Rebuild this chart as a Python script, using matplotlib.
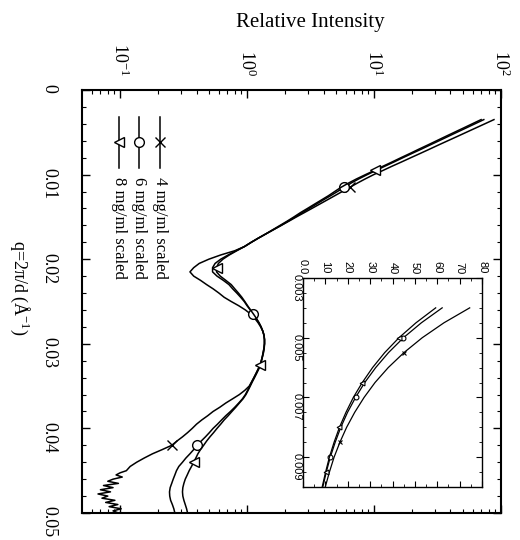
import numpy as np
import matplotlib
matplotlib.use("Agg")
import matplotlib.pyplot as plt
from matplotlib.ticker import LogLocator, NullFormatter, MultipleLocator, FixedLocator

plt.rcParams['font.family'] = ['Liberation Serif', 'DejaVu Serif']
plt.rcParams['mathtext.fontset'] = 'stix'

# ---------------- data ----------------
# q grid (1/Angstrom), 0.0035 .. 0.05
q = np.round(np.arange(35, 501, 5) * 1e-4, 5)

# 4 mg/ml: same grid up to 0.0445, then finer sampling of the noisy tail
q4_tail = np.round(np.arange(450, 501, 2.5) * 1e-4, 6)
I4_main = [88.0, 74.5, 63.0, 53.3, 45.1, 38.1, 32.2, 27.3, 23.1, 19.5,
           16.5, 13.9, 11.8, 9.95, 8.55, 7.4, 6.46, 5.62, 4.90, 4.27,
           3.72, 3.24, 2.82, 2.45, 2.14, 1.86, 1.62, 1.41, 1.23, 1.08,
           0.955, 0.80, 0.62, 0.50, 0.42, 0.38, 0.355, 0.38, 0.43, 0.48,
           0.54, 0.60, 0.66, 0.75, 0.86, 0.97, 1.07, 1.15, 1.22, 1.28,
           1.33, 1.36, 1.37, 1.37, 1.36, 1.34, 1.32, 1.295, 1.27, 1.22,
           1.175, 1.13, 1.085, 1.04, 0.96, 0.87, 0.77, 0.68, 0.61, 0.54,
           0.49, 0.44, 0.40, 0.37, 0.34, 0.31, 0.28, 0.255, 0.215, 0.18,
           0.155, 0.135, 0.12]
I4_tail = [0.112, 0.100, 0.093, 0.104, 0.088, 0.080, 0.097, 0.074, 0.088, 0.070,
           0.084, 0.067, 0.080, 0.072, 0.091, 0.077, 0.096, 0.082, 0.102, 0.088,
           0.097]
q4 = np.concatenate([q[:len(I4_main)], q4_tail])
I4 = np.array(I4_main + I4_tail)

I6 = np.array([73.2, 62.2, 52.9, 44.9, 38.2, 32.5, 27.6, 23.5, 19.9, 16.9,
               14.4, 12.2, 10.4, 8.85, 7.6, 6.6, 5.85, 5.15, 4.54, 3.98,
               3.51, 3.09, 2.72, 2.40, 2.11, 1.86, 1.62, 1.41, 1.23, 1.08,
               0.955, 0.82, 0.71, 0.62, 0.56, 0.535, 0.535, 0.58, 0.65, 0.72,
               0.77, 0.83, 0.89, 0.95, 1.0, 1.06, 1.12, 1.18, 1.24, 1.29,
               1.33, 1.36, 1.37, 1.37, 1.36, 1.34, 1.32, 1.295, 1.27, 1.225,
               1.18, 1.135, 1.09, 1.05, 1.01, 0.97, 0.92, 0.86, 0.80, 0.74,
               0.68, 0.63, 0.585, 0.54, 0.505, 0.47, 0.435, 0.405, 0.38, 0.355,
               0.33, 0.31, 0.29, 0.278, 0.27, 0.262, 0.255, 0.248, 0.245, 0.246,
               0.25, 0.258, 0.265, 0.27])

I8 = np.array([69.7, 59.3, 50.5, 42.9, 36.5, 31.1, 26.5, 22.5, 19.2, 16.3,
               13.9, 11.8, 10.1, 8.57, 7.3, 6.3, 5.5, 4.9, 4.37, 3.85,
               3.39, 2.99, 2.63, 2.34, 2.07, 1.82, 1.60, 1.41, 1.23, 1.08,
               0.955, 0.83, 0.725, 0.645, 0.595, 0.575, 0.575, 0.615, 0.68, 0.75,
               0.80, 0.855, 0.91, 0.96, 1.01, 1.065, 1.125, 1.185, 1.24, 1.29,
               1.33, 1.36, 1.375, 1.375, 1.365, 1.35, 1.325, 1.30, 1.275, 1.235,
               1.19, 1.145, 1.10, 1.06, 1.02, 0.98, 0.93, 0.87, 0.815, 0.76,
               0.71, 0.66, 0.62, 0.58, 0.545, 0.51, 0.48, 0.455, 0.43, 0.41,
               0.395, 0.38, 0.365, 0.35, 0.338, 0.326, 0.318, 0.312, 0.31, 0.312,
               0.318, 0.326, 0.334, 0.34])

labels = ['4 mg/ml scaled', '6 mg/ml scaled', '8 mg/ml scaled']
q_ticks = [0, 0.01, 0.02, 0.03, 0.04, 0.05]
q_ticklabels = ['0', '0.01', '0.02', '0.03', '0.04', '0.05']
I_ticks = [0.1, 1, 10, 100]
I_ticklabels = [r'$\mathregular{10^{-1}}$', r'$\mathregular{10^{0}}$',
                r'$\mathregular{10^{1}}$', r'$\mathregular{10^{2}}$']
inset_I_ticks = [0, 10, 20, 30, 40, 50, 60, 70, 80]
inset_I_ticklabels = ['0.0', '10', '20', '30', '40', '50', '60', '70', '80']
inset_q_ticks = [0.003, 0.005, 0.007, 0.009]
inset_q_ticklabels = ['0.003', '0.005', '0.007', '0.009']

# marker indices
mk4_main, mk6_main, mk8_main = [16, 77], [16, 46, 77], [12, 35, 58, 81]
inset_slice = slice(1, 14)
mk4_in, mk6_in, mk8_in = [3, 9], [2, 6, 10], [2, 5, 8, 11]

# ---------------- figure (drawn rotated 90 deg clockwise) ----------------
fig = plt.figure(figsize=(5.2, 5.4), dpi=100)
W, H = 520, 540
ax = fig.add_axes([82 / W, (H - 513) / H, 419 / W, 423 / H])

lw = 1.1
ms = 7
ax.plot(I4, q4, color='black', lw=lw, marker='x', ms=6.5, mew=1.0,
        markevery=mk4_main)
ax.plot(I6, q, color='black', lw=lw, marker='o', ms=ms, mfc='white', mec='black',
        mew=1.0, markevery=mk6_main)
ax.plot(I8, q, color='black', lw=lw, marker='<', ms=ms, mfc='white', mec='black',
        mew=1.0, markevery=mk8_main)

ax.set_xscale('log')
ax.set_xlim(10 ** -1.3, 100)
ax.set_ylim(0.05, 0)

ax.xaxis.set_major_locator(FixedLocator(I_ticks))
ax.set_xticklabels(I_ticklabels)
ax.xaxis.set_minor_locator(LogLocator(base=10, subs=np.arange(2, 10)))
ax.xaxis.set_minor_formatter(NullFormatter())
ax.set_yticks(q_ticks)
ax.set_yticklabels(q_ticklabels)
ax.yaxis.set_minor_locator(MultipleLocator(0.002))

ax.tick_params(axis='both', which='both', direction='in', top=True, bottom=True,
               left=True, right=True)
ax.tick_params(axis='x', which='both', labeltop=True, labelbottom=False)
ax.tick_params(axis='x', which='major', length=6, width=1, pad=10, labelsize=13,
               labelrotation=-90)
ax.tick_params(axis='y', which='major', length=6, width=1, pad=18, labelsize=13,
               labelrotation=-90)
ax.tick_params(which='minor', length=3, width=0.8)
for s in ax.spines.values():
    s.set_linewidth(1.5)

# legend (drawn manually because it is rotated)
leg_x = [0.186, 0.136, 0.088]
leg_markers = [dict(marker='x', mfc='black', ms=6.5), dict(marker='o', mfc='white', ms=ms),
               dict(marker='<', mfc='white', ms=ms)]
for xf, lab, mk in zip(leg_x, labels, leg_markers):
    ax.plot([xf, xf], [0.936, 0.816], transform=ax.transAxes, color='black', lw=lw)
    ax.plot([xf], [0.876], transform=ax.transAxes, color='black', mec='black',
            mew=1.0, **mk)
    ax.text(xf, 0.795, lab, transform=ax.transAxes, rotation=-90, ha='center',
            va='top', fontsize=12)

fig.text(310 / W, 1 - 22 / H, 'Relative Intensity', ha='center', va='center',
         fontsize=15)
fig.text(20 / W, 1 - 288 / H, r'q=2π/d (Å$\mathregular{^{-1}}$)', ha='center',
         va='center', rotation=-90, fontsize=13)

# ---------------- inset ----------------
axi = fig.add_axes([303 / W, (H - 487) / H, 179 / W, 209 / H])
qi = q[inset_slice]
ms_i = 3.5
axi.plot(I4[inset_slice], qi, color='black', lw=0.9, marker='x', ms=ms_i, mew=0.8,
         markevery=mk4_in)
axi.plot(I6[inset_slice], qi, color='black', lw=0.9, marker='o', ms=ms_i,
         mfc='white', mec='black', mew=0.8, markevery=mk6_in)
axi.plot(I8[inset_slice], qi, color='black', lw=0.9, marker='<', ms=ms_i,
         mfc='white', mec='black', mew=0.8, markevery=mk8_in)
axi.set_xlim(0, 80)
axi.set_ylim(0.010, 0.003)
axi.set_xticks(inset_I_ticks)
axi.set_xticklabels(inset_I_ticklabels, family=['Liberation Sans', 'DejaVu Sans'])
axi.set_yticks(inset_q_ticks)
axi.set_yticklabels(inset_q_ticklabels, family=['Liberation Sans', 'DejaVu Sans'])
axi.xaxis.set_minor_locator(MultipleLocator(5))
axi.yaxis.set_minor_locator(MultipleLocator(0.0005))
axi.tick_params(axis='both', which='both', direction='in', top=True, bottom=True,
                left=True, right=True)
axi.tick_params(axis='x', which='both', labeltop=True, labelbottom=False)
axi.tick_params(axis='x', which='major', length=4, width=0.8, pad=3, labelsize=8,
                labelrotation=-90)
axi.tick_params(axis='y', which='major', length=4, width=0.8, pad=1, labelsize=8,
                labelrotation=-90)
axi.tick_params(which='minor', length=2, width=0.6)
for s in axi.spines.values():
    s.set_linewidth(1.0)

fig.savefig('out.png', dpi=100)
